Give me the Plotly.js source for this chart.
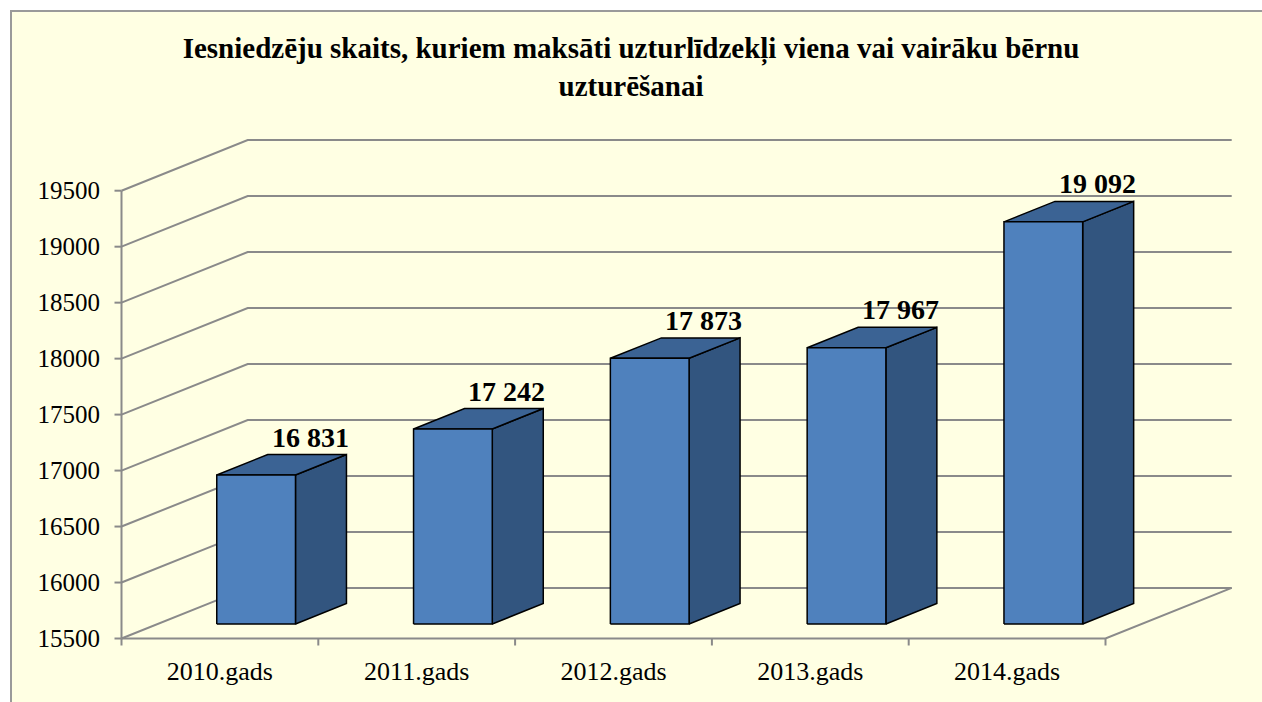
<!DOCTYPE html>
<html>
<head>
<meta charset="utf-8">
<script src="https://cdn.plot.ly/plotly-3.0.1.min.js"></script>
<style>
  html, body { margin: 0; padding: 0; background: #ffffff; width: 1262px; height: 702px; overflow: hidden; }
  #frame { position: absolute; left: 10px; top: 10px; width: 1262px; height: 702px; background: #FFFFE3; border-left: 2px solid #9a9a9a; border-top: 2px solid #9a9a9a; }
  #chart { position: absolute; left: 0; top: 0; width: 1262px; height: 702px; }
</style>
</head>
<body>
<div id="frame"></div>
<div id="chart"></div>
<script>
// ---- data ----
const categories = ['2010.gads', '2011.gads', '2012.gads', '2013.gads', '2014.gads'];
const values = [16831, 17242, 17873, 17967, 19092];
const yTicks = [15500, 16000, 16500, 17000, 17500, 18000, 18500, 19000, 19500];
const titleText = 'Iesniedzēju skaits, kuriem maksāti uzturlīdzekļi viena vai vairāku bērnu<br>uzturēšanai';

// ---- geometry (pixel layout of the pseudo-3D scene) ----
const W = 1262, H = 702;
const PX_X = 196.8;      // px per category
const PX_Y = 0.11195;    // px per value unit
const plotLeft = 110, plotRight = 1234, plotTop = 138, plotBottom = 648;
const axisX0 = 121.5, axisY0 = 638.5;   // pixel of front-left-bottom corner
const Y0 = yTicks[0], Y1 = yTicks[yTicks.length - 1];
const XA = -0.5, XB = categories.length - 0.5;
const D_X = 126.2 / PX_X;   // depth offset in x units
const D_Y = 50.6 / PX_Y;    // depth offset in y units
const F1 = 0.287, F2 = 0.691; // bar depth fractions
const BW = 0.4;             // bar width in category units
const TICK_X = 7 / PX_X, TICK_Y = 7 / PX_Y;

const XL = XA - (axisX0 - plotLeft) / PX_X;
const XR = XA + (plotRight - axisX0) / PX_X;
const YL = Y0 - (plotBottom - axisY0) / PX_Y;
const YH = Y0 + (axisY0 - plotTop) / PX_Y;

const grey = '#8a8a8a';
const traces = [];

// walls / floor grid lines
const gx = [], gy = [];
yTicks.forEach(v => {
  gx.push(XA, XA + D_X, XB + D_X, null);
  gy.push(v, v + D_Y, v + D_Y, null);
});
// floor front edge and right edge
gx.push(XA, XB, XB + D_X, null);
gy.push(Y0, Y0, Y0 + D_Y, null);
// y axis line
gx.push(XA, XA, null);
gy.push(Y0, Y1, null);
// y tick marks
yTicks.forEach(v => { gx.push(XA - TICK_X, XA, null); gy.push(v, v, null); });
// x tick marks at category boundaries
for (let k = 0; k <= categories.length; k++) {
  gx.push(XA + k, XA + k, null); gy.push(Y0, Y0 - TICK_Y, null);
}
traces.push({x: gx, y: gy, mode: 'lines', line: {color: grey, width: 2}, hoverinfo: 'skip', showlegend: false});

// bars
const fx = F1 * D_X, fy = F1 * D_Y, bx = F2 * D_X, by = F2 * D_Y;
const faceColors = {front: '#4F81BD', side: '#32557F', top: '#3B6394'};
function poly(xs, ys, color) {
  traces.push({x: xs.concat([xs[0]]), y: ys.concat([ys[0]]), mode: 'lines', fill: 'toself',
    fillcolor: color, line: {color: '#000000', width: 1.5}, hoverinfo: 'skip', showlegend: false});
}
values.forEach((v, i) => {
  const x0 = i - BW / 2, x1 = i + BW / 2;
  poly([x1 + fx, x1 + bx, x1 + bx, x1 + fx], [Y0 + fy, Y0 + by, v + by, v + fy], faceColors.side);
  poly([x0 + fx, x1 + fx, x1 + bx, x0 + bx], [v + fy, v + fy, v + by, v + by], faceColors.top);
  poly([x0 + fx, x1 + fx, x1 + fx, x0 + fx], [Y0 + fy, Y0 + fy, v + fy, v + fy], faceColors.front);
});

const serif = 'Liberation Serif';
function fmt(n) { return String(n).replace(/\B(?=(\d{3})+(?!\d))/g, ' '); }
const annotations = values.map((v, i) => ({
  x: i + bx, y: v + by, xref: 'x', yref: 'y', text: '<b>' + fmt(v) + '</b>', showarrow: false,
  xanchor: 'center', yanchor: 'bottom', xshift: 3, yshift: 0,
  font: {family: serif, size: 28, color: '#000'}
}));

const layout = {
  width: W, height: H,
  font: {family: serif, color: '#000'},
  paper_bgcolor: 'rgba(0,0,0,0)', plot_bgcolor: 'rgba(0,0,0,0)',
  margin: {l: plotLeft, r: W - plotRight, t: plotTop, b: H - plotBottom, pad: 0},
  title: {text: '<b>' + titleText.replace('<br>', '</b><br><b>') + '</b>', x: 0.5, xref: 'container', xanchor: 'center', y: 1 - 58 / H, yref: 'container', yanchor: 'top',
    font: {family: serif, size: 29, color: '#000'}},
  xaxis: {range: [XL, XR], tickvals: categories.map((c, i) => i), ticktext: categories, ticks: '',
    showgrid: false, zeroline: false, showline: false, fixedrange: true, ticklabelstandoff: 5,
    tickfont: {family: serif, size: 26, color: '#000'}},
  yaxis: {range: [YL, YH], tickvals: yTicks, ticktext: yTicks.map(String), ticks: '',
    showgrid: false, zeroline: false, showline: false, fixedrange: true, ticklabelstandoff: 9,
    tickfont: {family: serif, size: 25, color: '#000'}},
  annotations: annotations,
  showlegend: false
};
Plotly.newPlot('chart', traces, layout, {staticPlot: true, displayModeBar: false});
</script>
</body>
</html>
